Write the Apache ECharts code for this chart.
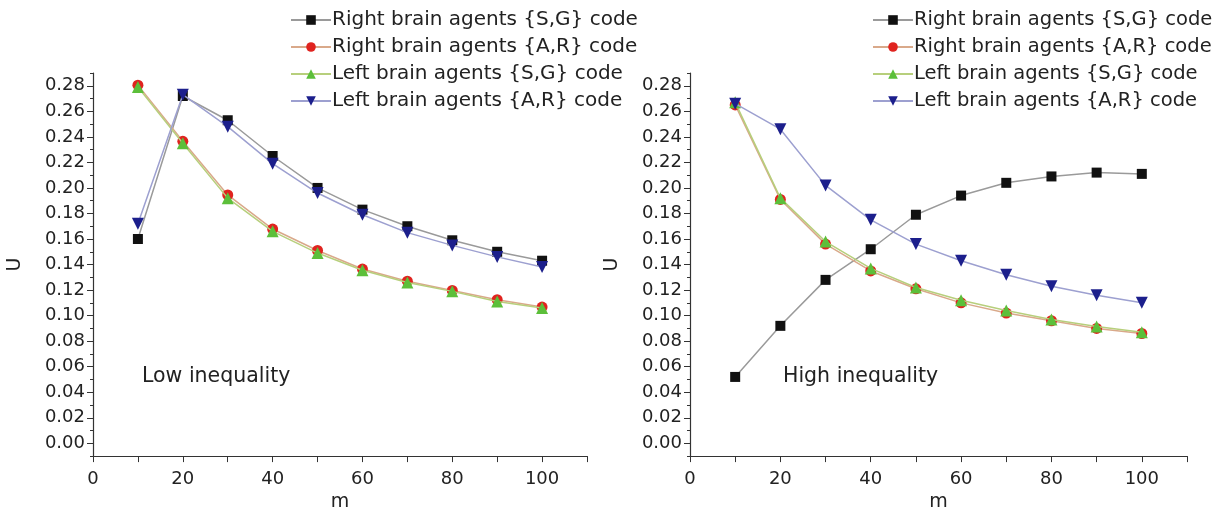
<!DOCTYPE html>
<html>
<head>
<meta charset="utf-8">
<script src="https://cdn.jsdelivr.net/npm/echarts@6/dist/echarts.min.js"></script>
<style>
html,body{margin:0;padding:0;background:#fff;}
#c{width:1222px;height:517px;}
</style>
</head>
<body>
<div id="c"></div>
<script>
// ---- data ----
var mValues = [10, 20, 30, 40, 50, 60, 70, 80, 90, 100];
var seriesNames = [
  'Right brain agents {S,G} code',
  'Right brain agents {A,R} code',
  'Left brain agents {S,G} code',
  'Left brain agents {A,R} code'
];
// Low inequality panel
var lowRightSG = [0.160, 0.272, 0.253, 0.225, 0.200, 0.183, 0.170, 0.159, 0.150, 0.143];
var lowRightAR = [0.2805, 0.2365, 0.1945, 0.1678, 0.1510, 0.1365, 0.1270, 0.1197, 0.1125, 0.1067];
var lowLeftSG  = [0.279, 0.235, 0.192, 0.166, 0.149, 0.1355, 0.126, 0.119, 0.111, 0.106];
var lowLeftAR  = [0.172, 0.273, 0.248, 0.219, 0.196, 0.179, 0.165, 0.155, 0.146, 0.138];
// High inequality panel
var highRightSG = [0.052, 0.092, 0.128, 0.152, 0.179, 0.194, 0.204, 0.209, 0.212, 0.211];
var highRightAR = [0.265, 0.191, 0.156, 0.135, 0.121, 0.110, 0.102, 0.096, 0.090, 0.086];
var highLeftSG  = [0.267, 0.192, 0.158, 0.137, 0.122, 0.112, 0.104, 0.097, 0.0915, 0.087];
var highLeftAR  = [0.266, 0.246, 0.202, 0.175, 0.156, 0.143, 0.132, 0.123, 0.116, 0.110];
// ticks
var yTickLabels = [0.00, 0.02, 0.04, 0.06, 0.08, 0.10, 0.12, 0.14, 0.16, 0.18, 0.20, 0.22, 0.24, 0.26, 0.28];
var yMinorTicks = [-0.01, 0.01, 0.03, 0.05, 0.07, 0.09, 0.11, 0.13, 0.15, 0.17, 0.19, 0.21, 0.23, 0.25, 0.27, 0.29];
var xTickLabels = [0, 20, 40, 60, 80, 100];
var panelLabels = ['Low inequality', 'High inequality'];

// ---- styles ----
var lineColors = ['#9a9a9a', '#d9a98a', '#b7cf7c', '#9da0d0'];
var markColors = ['#111111', '#e0231f', '#5cbf3a', '#1c1f8c'];
var symbols = ['rect', 'circle', 'triangle', 'path://M0,0 L10,0 L5,9 Z'];
var symSizes = [10, 11, 12, 12];
var font = 'DejaVu Sans, sans-serif';
var tickFont = 'DejaVu Sans, sans-serif';

function pairs(vals) { return mValues.map(function (m, i) { return [m, vals[i]]; }); }

var grids = [
  { left: 93, right: 635, top: 73, bottom: 58 },
  { left: 690, right: 35, top: 73, bottom: 58 }
];

var xAxes = [], yAxes = [];
grids.forEach(function (g, gi) {
  xAxes.push({
    type: 'value', gridIndex: gi, min: 0, max: 110, interval: 10,
    name: 'm', nameLocation: 'middle', nameGap: 36,
    nameTextStyle: { fontFamily: font, fontSize: 19, color: '#222' },
    axisLine: { show: true, onZero: false, lineStyle: { color: '#333', width: 1.2 } },
    axisTick: { show: true, inside: false, length: 6, lineStyle: { color: '#333' } },
    axisLabel: { customValues: xTickLabels, fontFamily: tickFont, fontSize: 18, color: '#222', margin: 14 },
    splitLine: { show: false }
  });
  yAxes.push({
    type: 'value', gridIndex: gi, min: -0.01, max: 0.29, position: 'left',
    name: 'U', nameLocation: 'middle', nameGap: 68, nameRotate: 90,
    nameTextStyle: { fontFamily: font, fontSize: 19, color: '#222' },
    axisLine: { show: true, lineStyle: { color: '#333', width: 1.2 } },
    axisTick: { show: true, customValues: yTickLabels, length: 6, lineStyle: { color: '#333' } },
    axisLabel: {
      customValues: yTickLabels, fontFamily: tickFont, fontSize: 18, color: '#222', margin: 8,
      formatter: function (v) { return v.toFixed(2); }
    },
    splitLine: { show: false }
  });
  yAxes.push({
    type: 'value', gridIndex: gi, min: -0.01, max: 0.29, position: 'left', offset: 0,
    axisLine: { show: false },
    axisTick: { show: true, customValues: yMinorTicks, length: 3, lineStyle: { color: '#333' } },
    axisLabel: { show: false },
    splitLine: { show: false }
  });
});

var panelData = [
  [lowRightSG, lowRightAR, lowLeftSG, lowLeftAR],
  [highRightSG, highRightAR, highLeftSG, highLeftAR]
];
var series = [];
panelData.forEach(function (set, gi) {
  set.forEach(function (vals, si) {
    series.push({
      name: seriesNames[si], type: 'line', xAxisIndex: gi, yAxisIndex: gi * 2,
      data: pairs(vals),
      symbol: symbols[si], symbolSize: symSizes[si], showSymbol: true,
      lineStyle: { color: lineColors[si], width: 1.5 },
      itemStyle: { color: markColors[si], borderWidth: 0 },
      z: 2 + si, animation: false
    });
  });
});

function legendFor(left, fs) {
  return {
    orient: 'vertical', left: left, top: 4, itemGap: 5, itemWidth: 40, itemHeight: 12,
    textStyle: { fontFamily: font, fontSize: fs, lineHeight: 22, color: '#222', padding: [0, 0, 0, -4] },
    data: seriesNames.map(function (n, i) {
      return { name: n, itemStyle: { color: markColors[i] }, lineStyle: { color: lineColors[i] } };
    })
  };
}

var option = {
  backgroundColor: '#ffffff',
  animation: false,
  grid: grids,
  xAxis: xAxes,
  yAxis: yAxes,
  legend: [legendFor(285, 20), legendFor(867, 19.5)],
  graphic: [
    { type: 'text', left: 142, top: 366, style: { text: panelLabels[0], fontFamily: font, fontSize: 20.5, fill: '#222' } },
    { type: 'text', left: 783, top: 366, style: { text: panelLabels[1], fontFamily: font, fontSize: 20.5, fill: '#222' } }
  ],
  series: series
};
var chart = echarts.init(document.getElementById('c'), null, { renderer: 'canvas' });
chart.setOption(option);
</script>
</body>
</html>
